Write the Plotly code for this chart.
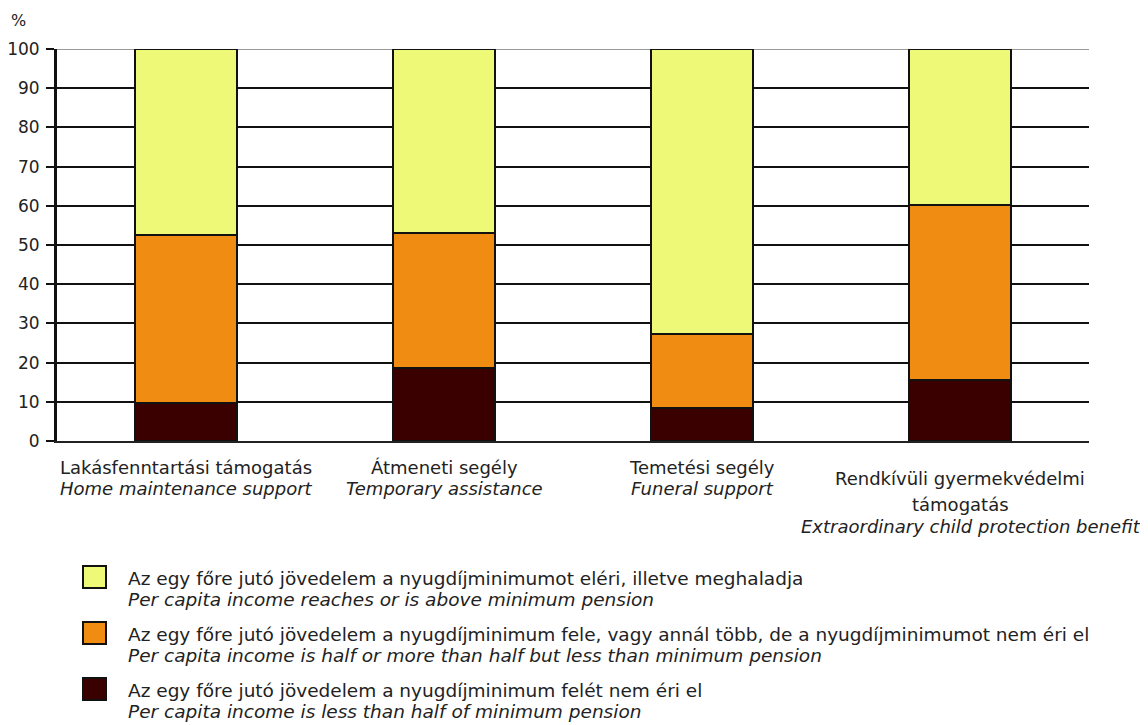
import plotly.graph_objects as go

categories = ["Lakásfenntartási támogatás", "Átmeneti segély", "Temetési segély", "Rendkívüli gyermekvédelmi támogatás"]
cat_hu_lines = [["Lakásfenntartási támogatás"], ["Átmeneti segély"], ["Temetési segély"],
                ["Rendkívüli gyermekvédelmi", "támogatás"]]
cat_en = ["Home maintenance support", "Temporary assistance", "Funeral support",
          "Extraordinary child protection benefit"]

below_half = [9.7, 18.5, 8.3, 15.6]
half_to_min = [42.8, 34.5, 18.9, 44.6]
above_min = [47.5, 47.0, 72.8, 39.8]

series_hu = [
    "Az egy főre jutó jövedelem a nyugdíjminimumot eléri, illetve meghaladja",
    "Az egy főre jutó jövedelem a nyugdíjminimum fele, vagy annál több, de a nyugdíjminimumot nem éri el",
    "Az egy főre jutó jövedelem a nyugdíjminimum felét nem éri el",
]
series_en = [
    "Per capita income reaches or is above minimum pension",
    "Per capita income is half or more than half but less than minimum pension",
    "Per capita income is less than half of minimum pension",
]
colors = ["#EEF978", "#F08C12", "#3A0000"]

OFF = 8  # page body margin
W, H = 1148 - OFF, 725 - OFF
L, R, T, B = 57 - OFF, 1089 - OFF, 49 - OFF, 441 - OFF
FONT = "DejaVu Sans, sans-serif"
TXT = "#222222"
FS_TICK = 17
FS_CAT = 18
FS_LEG = 18.5

def px(q):
    return (q - OFF - L) / (R - L)

def py(p):
    return (B - (p - OFF)) / (B - T)

x = list(range(len(categories)))
fig = go.Figure()
for vals, col, name in [(below_half, colors[2], series_en[2]),
                        (half_to_min, colors[1], series_en[1]),
                        (above_min, colors[0], series_en[0])]:
    fig.add_trace(go.Bar(x=x, y=vals, marker=dict(color=col, line=dict(color="#111111", width=2)),
                         width=0.395, name=name, showlegend=False))

annotations = []
annotations.append(dict(text="%", x=px(9), y=py(9), xref="paper", yref="paper",
                        xanchor="left", yanchor="top",
                        showarrow=False, font=dict(size=16, color=TXT, family=FONT)))
for i in range(len(categories)):
    hu = cat_hu_lines[i]
    ys = [468, 489] if len(hu) == 1 else [478, 504, 526]
    lines = [(t, False) for t in hu] + [(cat_en[i], True)]
    for (t, it), yy in zip(lines, ys):
        xs = 11 if (i == 3 and it) else 0
        annotations.append(dict(text=f"<i>{t}</i>" if it else t, x=i, y=py(yy), xref="x", yref="paper",
                                showarrow=False, xshift=xs, yanchor="middle", xanchor="center",
                                font=dict(size=FS_CAT, color=TXT, family=FONT)))
shapes = []
rows = [(578, 599, 566), (634, 655, 622), (690, 711, 678)]
for k, (y1, y2, sq) in enumerate(rows):
    shapes.append(dict(type="rect", xref="paper", yref="paper",
                       x0=px(83), x1=px(106), y0=py(sq), y1=py(sq + 22),
                       fillcolor=colors[k], line=dict(color="#111111", width=2)))
    annotations.append(dict(text=series_hu[k], x=px(126), y=py(y1), xref="paper", yref="paper",
                            xanchor="left", yanchor="middle", showarrow=False,
                            font=dict(size=FS_LEG, color=TXT, family=FONT)))
    annotations.append(dict(text=f"<i>{series_en[k]}</i>", x=px(126), y=py(y2), xref="paper", yref="paper",
                            xanchor="left", yanchor="middle", showarrow=False,
                            font=dict(size=FS_LEG, color=TXT, family=FONT)))
# lighter top border line at 100 as in the reference
shapes.append(dict(type="line", xref="paper", yref="y", x0=0, x1=1, y0=100, y1=100,
                   line=dict(color="#9a9a9a", width=2), layer="below"))

fig.update_layout(
    width=W, height=H,
    margin=dict(l=L, r=W - R, t=T, b=H - B),
    paper_bgcolor="white", plot_bgcolor="white",
    barmode="stack", bargap=0,
    annotations=annotations, shapes=shapes,
    xaxis=dict(range=[-0.5, 3.5], showticklabels=False, ticks="", showgrid=False, automargin=False,
               showline=True, linecolor="#222222", linewidth=2, zeroline=False, fixedrange=True),
    yaxis=dict(range=[0, 100], tickvals=list(range(0, 91, 10)) + [100], ticks="outside", ticklen=8,
               tickwidth=2, tickcolor="#111111", showgrid=True, gridcolor="#111111", gridwidth=2,
               showline=True, linecolor="#111111", linewidth=3, zeroline=False, automargin=False,
               tickfont=dict(size=FS_TICK, color=TXT, family=FONT), ticklabelstandoff=3),
    font=dict(family=FONT, color=TXT),
)
fig.write_html("out.html")
